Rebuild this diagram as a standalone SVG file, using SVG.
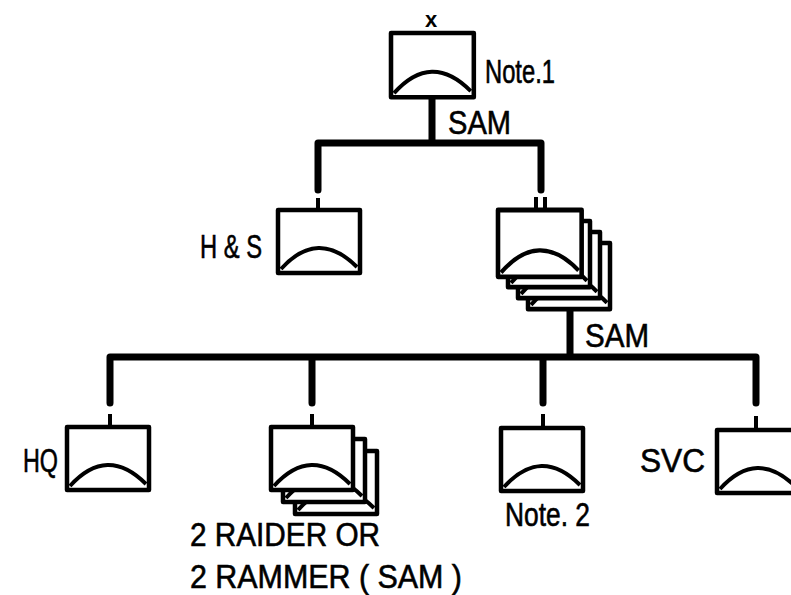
<svg xmlns="http://www.w3.org/2000/svg" width="791" height="595" viewBox="0 0 791 595">
<style>
.box{fill:#fff;stroke:#000;stroke-width:4.5;stroke-linejoin:round}
.arc{fill:none;stroke:#000;stroke-width:4}
.bar{fill:none;stroke:#000;stroke-width:7;stroke-linecap:round;stroke-linejoin:round}
.stub{stroke:#000;stroke-width:4}
.t{font-family:"Liberation Sans",Arial,sans-serif;font-size:33px;fill:#000;stroke:#000;stroke-width:0.6}
</style>
<defs>
<g id="unit">
<rect class="box" x="0" y="0" width="82" height="63"/>
<path class="arc" d="M3,59 Q40,18 79,57"/>
</g>
</defs>
<rect width="791" height="595" fill="#fff"/>
<g id="connectors">
<path class="bar" d="M432,97 V143 M318,190 V143 H541 V190"/>
<line class="stub" x1="318" y1="198" x2="318" y2="210"/>
<line class="stub" x1="536" y1="197" x2="536" y2="210"/>
<line class="stub" x1="545" y1="197" x2="545" y2="210"/>
<path class="bar" d="M570,307 V357 M110,403 V357 H756 V403 M312,357 V403 M543,357 V403"/>
<line class="stub" x1="110" y1="414" x2="110" y2="427"/>
<line class="stub" x1="312" y1="414" x2="312" y2="427"/>
<line class="stub" x1="543" y1="414" x2="543" y2="428"/>
<line class="stub" x1="756" y1="416" x2="756" y2="430"/>
</g>
<g id="top">
<use href="#unit" x="391" y="33" transform="translate(391 33) scale(1.01 1.02) translate(-391 -33)"/>
<text x="425" y="27" style="font-family:'Liberation Sans',sans-serif;font-size:22px;font-weight:bold">x</text>
<text class="t" x="485" y="83" textLength="70" lengthAdjust="spacingAndGlyphs">Note.1</text>
<text class="t" x="448" y="134" textLength="63" lengthAdjust="spacingAndGlyphs">SAM</text>
</g>
<g id="hs">
<use href="#unit" x="278" y="210"/>
<text class="t" x="200" y="258" textLength="62" lengthAdjust="spacingAndGlyphs">H &amp; S</text>
</g>
<g id="batteries">
<use href="#unit" x="528" y="243" transform="translate(528 243) scale(1 1.05) translate(-528 -243)"/>
<use href="#unit" x="518" y="232" transform="translate(518 232) scale(1 1.05) translate(-518 -232)"/>
<use href="#unit" x="508" y="221" transform="translate(508 221) scale(1 1.05) translate(-508 -221)"/>
<use href="#unit" x="498" y="210" transform="translate(498 210) scale(1.02 1.06) translate(-498 -210)"/>
<text class="t" x="585" y="347" textLength="64" lengthAdjust="spacingAndGlyphs">SAM</text>
</g>
<g id="hq">
<use href="#unit" x="67" y="427"/>
<text class="t" x="23" y="472" textLength="35" lengthAdjust="spacingAndGlyphs">HQ</text>
</g>
<g id="raider">
<use href="#unit" x="295" y="451"/>
<use href="#unit" x="283" y="439"/>
<use href="#unit" x="271" y="427"/>
<text class="t" x="190" y="546" textLength="190" lengthAdjust="spacingAndGlyphs">2 RAIDER OR</text>
<text class="t" x="190" y="588" textLength="272" lengthAdjust="spacingAndGlyphs">2 RAMMER ( SAM )</text>
</g>
<g id="note2">
<use href="#unit" x="501" y="428"/>
<text class="t" x="505" y="526" textLength="85" lengthAdjust="spacingAndGlyphs">Note. 2</text>
</g>
<g id="svc">
<use href="#unit" x="717" y="430"/>
<text class="t" x="640" y="472" textLength="65" lengthAdjust="spacingAndGlyphs">SVC</text>
</g>
</svg>
